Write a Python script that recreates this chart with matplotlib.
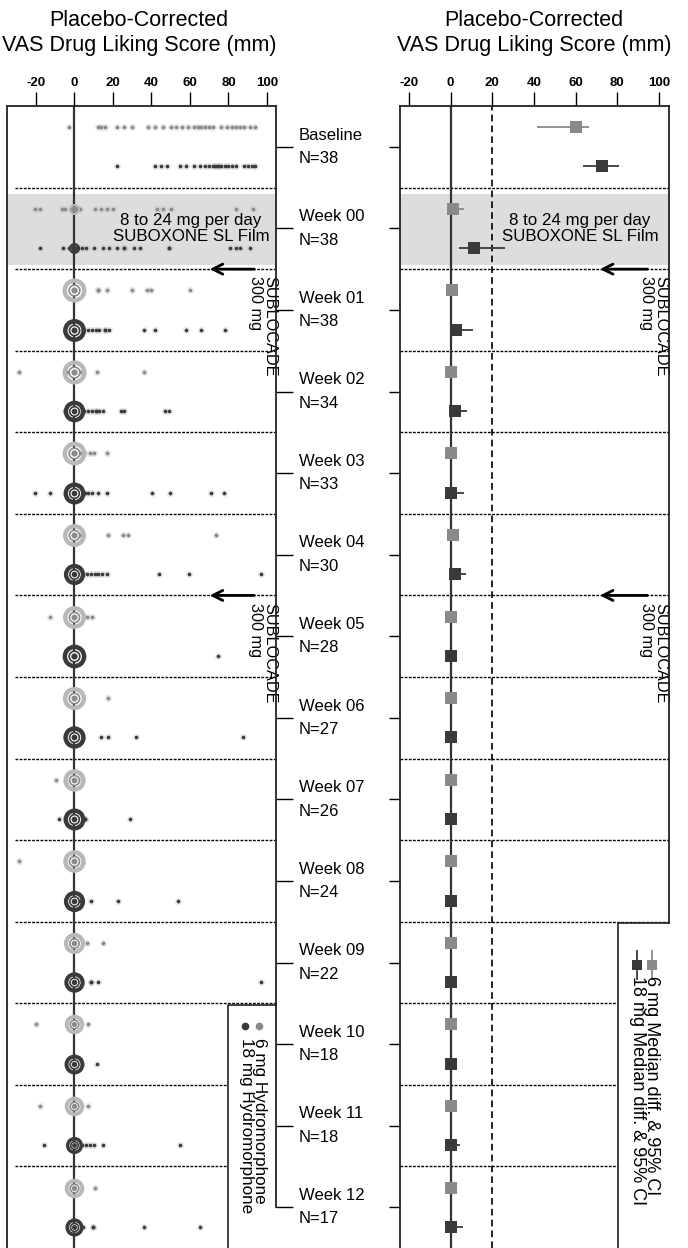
import numpy as np
import matplotlib.pyplot as plt
from matplotlib.patches import Rectangle

plt.rcParams['font.family'] = ['Liberation Sans', 'DejaVu Sans']

groups = ["Baseline", "Week 00", "Week 01", "Week 02", "Week 03", "Week 04", "Week 05",
          "Week 06", "Week 07", "Week 08", "Week 09", "Week 10", "Week 11", "Week 12"]
n_subj = [38, 38, 38, 34, 33, 30, 28, 27, 26, 24, 22, 18, 18, 17]

# individual placebo-corrected scores (non-zero ones), 6 mg and 18 mg hydromorphone
dots_6 = [
    [-3, 12, 14, 16, 22, 26, 30, 38, 42, 46, 50, 53, 56, 59, 62, 64, 66, 68, 70, 72, 76, 79, 82, 84, 86, 88, 91, 94],
    [-20.5, -18, -6.5, -5, -2, 2, 3, 10.5, 14, 17, 20, 43, 46, 50, 84, 93],
    [12, 12.5, 17, 30, 37.5, 40, 60],
    [-29, -4, 3, 11.5, 36],
    [3, 5, 8, 10, 17],
    [3, 17.5, 25, 28, 73.5],
    [-12.7, 6.4, 9],
    [17.5],
    [-9.6, -2, 2],
    [-28.6],
    [6.7, 14.6],
    [-19.7, 7],
    [-18, 7],
    [10.6],
]
dots_18 = [
    [22, 42, 45, 48, 55, 58, 62, 65, 68, 70, 72, 73, 74, 75, 76, 78, 80, 82, 84, 88, 90, 92, 94],
    [-18, -6, -3, 2, 4, 6, 10, 15, 18, 22, 26, 26, 31, 34, 49, 49, 81, 84, 86, 91],
    [4.5, 7, 9, 11, 13, 16, 16, 18, 36, 42, 58, 66, 78],
    [-5, 2, 5, 7, 9, 11, 11, 13, 15, 24, 26, 47, 49],
    [-20.5, -12.7, 5.5, 7, 9, 12, 17, 40.5, 49.6, 71, 77.7],
    [4.5, 6.5, 8.5, 10.5, 12.5, 14.5, 17, 44, 59.5, 97],
    [74.8],
    [14, 17.5, 32, 87.7],
    [-8, 5.5, 5.5, 29],
    [3, 8.5, 22.8, 54],
    [8.5, 8.5, 12, 97],
    [11.5],
    [-16, 4, 6, 8, 10, 14.6, 55],
    [4.6, 9.7, 9.7, 36, 65],
]
# subjects piled up at zero
zero_6 = [0, 2, 28, 28, 27, 24, 24, 25, 22, 23, 19, 15, 15, 15]
zero_18 = [0, 2, 24, 20, 21, 19, 27, 22, 21, 19, 17, 16, 10, 12]

# median difference and 95% CI
med_6 = [60, 1, 0.5, 0, 0, 1, 0, 0, 0, 0, 0, 0, 0, 0]
lo_6 = [41.5, 0, 0, 0, 0, 0, 0, 0, 0, 0, 0, 0, 0, 0]
hi_6 = [66.5, 6.5, 3, 0, 0, 2, 0, 0, 0, 0, 0, 0, 0, 0]
med_18 = [72.5, 11, 2.5, 2, 0, 2, 0, 0, 0, 0, 0, 0, 0, 0]
lo_18 = [63.5, 4, 0, 0, 0, 0, 0, 0, 0, 0, 0, 0, 0, 0]
hi_18 = [81, 26, 10.5, 8, 6.5, 7.5, 0, 0, 0, 0, 0, 0, 4.5, 6]

xticks = [-20, 0, 20, 40, 60, 80, 100]

grey = '#8a8a8a'
dark = '#3a3a3a'
light = '#b8b8b8'
off = 0.24

fig = plt.figure(figsize=(6.88, 12.48), dpi=100)
h = (1248 - 106) / 1248
ax1 = fig.add_axes([7 / 688, 0, 269 / 688, h])
ax2 = fig.add_axes([400 / 688, 0, 269 / 688, h])

ypos = np.arange(len(groups))

for ax, xl in ((ax1, (-35, 104.7)), (ax2, (-24.3, 104.8))):
    ax.set_xlim(*xl)
    ax.set_ylim(13.5, -0.5)
    ax.xaxis.tick_top()
    ax.set_xticks(xticks)
    ax.set_xticklabels([str(t) for t in xticks], fontsize=9.5, fontweight='bold')
    ax.tick_params(axis='x', length=10, width=1, pad=2)
    ax.spines['bottom'].set_visible(False)
    for s in ax.spines.values():
        s.set_linewidth(1.3)
        s.set_color('#222222')
        s.set_zorder(9)
    ax.axhspan(0.58, 1.45, color='#dddddd', zorder=0, lw=0)
    ax.axvline(0, color='#333333', lw=1.6, zorder=2)
    ax.set_yticks(ypos)
    ax.set_yticklabels([])

ax1.yaxis.tick_right()
ax1.tick_params(axis='y', length=12, width=1)
ax1.spines['right'].set_bounds(-0.5, 13)
ax2.yaxis.tick_left()
ax2.tick_params(axis='y', length=8, width=1)
ax2.spines['right'].set_bounds(-0.5, 9.52)

for i in range(len(groups) - 1):
    ax1.axhline(i + 0.5, xmin=0.03, xmax=1, color='black', lw=1, ls=(0, (2, 1)), zorder=1)
    ax2.axhline(i + 0.5, color='black', lw=1, ls=(0, (2, 1)), zorder=1)

ax2.axvline(20, color='black', lw=1.2, ls=(0, (4, 2.5)), zorder=1)


def draw_cluster(ax, y, count, col, ring):
    if count == 0:
        return
    s = 3.5 + 2.0 * np.sqrt(count)
    ax.plot(0, y, 'o', ms=s, mfc='none', mec=ring, mew=min(3.2, 0.25 * s), zorder=4)
    ax.plot(0, y, 'o', ms=s * 0.55, mfc='white', mec=col, mew=1.2, zorder=5)
    ax.plot(0, y, 'o', ms=s * 0.25, color=col, zorder=6)


# left panel: individual scores
for i in range(len(groups)):
    y6 = i - off
    y18 = i + off
    ax1.plot(dots_6[i], [y6] * len(dots_6[i]), 'o', ms=5, color=light, alpha=0.35, mew=0, zorder=3)
    ax1.plot(dots_6[i], [y6] * len(dots_6[i]), 'o', ms=2.6, color=grey, mew=0, zorder=3)
    ax1.plot(dots_18[i], [y18] * len(dots_18[i]), 'o', ms=5, color=light, alpha=0.35, mew=0, zorder=3)
    ax1.plot(dots_18[i], [y18] * len(dots_18[i]), 'o', ms=2.6, color=dark, mew=0, zorder=3)
    draw_cluster(ax1, y6, zero_6[i], grey, light)
    draw_cluster(ax1, y18, zero_18[i], dark, dark)

# right panel: medians and CIs
ax2.hlines(ypos - off, lo_6, hi_6, color=grey, lw=1.3, zorder=3)
ax2.plot(med_6, ypos - off, 's', ms=8, color=grey, mew=0, zorder=4)
ax2.hlines(ypos + off, lo_18, hi_18, color=dark, lw=1.3, zorder=3)
ax2.plot(med_18, ypos + off, 's', ms=8, color=dark, mew=0, zorder=4)

# week labels between panels
tr = ax1.get_yaxis_transform()
for i, g in enumerate(groups):
    ax1.text(1.085, i, f"{g}\nN={n_subj[i]}", transform=tr, ha='left', va='center',
             multialignment='left', fontsize=12, linespacing=1.7, clip_on=False)

# titles
title = "Placebo-Corrected\nVAS Drug Liking Score (mm)"
fig.text(139 / 688, 1 - 33 / 1248, title, ha='center', va='center', fontsize=15.5, linespacing=1.2)
fig.text(534 / 688, 1 - 33 / 1248, title, ha='center', va='center', fontsize=15.5, linespacing=1.2)

# annotations
ax1.text(60.5, 1.0, "8 to 24 mg per day\nSUBOXONE SL Film", ha='center', va='center',
         fontsize=12.2, linespacing=1.12, zorder=7)
ax2.text(62, 1.0, "8 to 24 mg per day\nSUBOXONE SL Film", ha='center', va='center',
         fontsize=12.2, linespacing=1.12, zorder=7)

for ax, tail, tip, xr in ((ax1, 94.8, 68.8, 105.5), (ax2, 95.8, 70.3, 104.5)):
    for ysep in (1.5, 5.5):
        ax.annotate('', xy=(tip, ysep), xytext=(tail, ysep),
                    arrowprops=dict(arrowstyle='->', lw=2, color='black', mutation_scale=18), zorder=8)
        ax.text(xr, ysep + 0.09, "SUBLOCADE\n300 mg", rotation=270, ha='right', va='top',
                fontsize=11.7, linespacing=0.95, multialignment='left', zorder=8, clip_on=False)

# left legend
ax1.add_patch(Rectangle((79.7, 10.52), 24.9, 3.2, facecolor='white', edgecolor='none', zorder=7, clip_on=False))
ax1.plot([79.7, 79.7, 104.7], [13.6, 10.52, 10.52], color='#222222', lw=1.2, clip_on=False, zorder=8)
ax1.plot(88.6, 10.78, 'o', ms=4.5, color=dark, zorder=8)
ax1.plot(95.8, 10.78, 'o', ms=4.5, color=grey, zorder=8)
ax1.text(100, 10.93, "6 mg Hydromorphone\n18 mg Hydromorphone", rotation=270, ha='right', va='top',
         fontsize=12.3, linespacing=0.85, multialignment='left', zorder=8)

# right legend
ax2.add_patch(Rectangle((80.3, 9.52), 25, 4.2, facecolor='white', edgecolor='none', zorder=7, clip_on=False))
ax2.plot([80.3, 80.3, 104.8], [13.6, 9.52, 9.52], color='#222222', lw=1.2, clip_on=False, zorder=8)
for xm, col in ((89.5, dark), (96.7, grey)):
    ax2.vlines(xm, 9.85, 10.21, color=col, lw=1.3, zorder=8)
    ax2.plot(xm, 10.03, 's', ms=7, color=col, mew=0, zorder=9)
ax2.text(100.5, 10.17, "6 mg Median diff. & 95% CI\n18 mg Median diff. & 95% CI", rotation=270,
         ha='right', va='top', fontsize=13, linespacing=0.8, multialignment='left', zorder=8)

fig.savefig('out.png', dpi=100)
